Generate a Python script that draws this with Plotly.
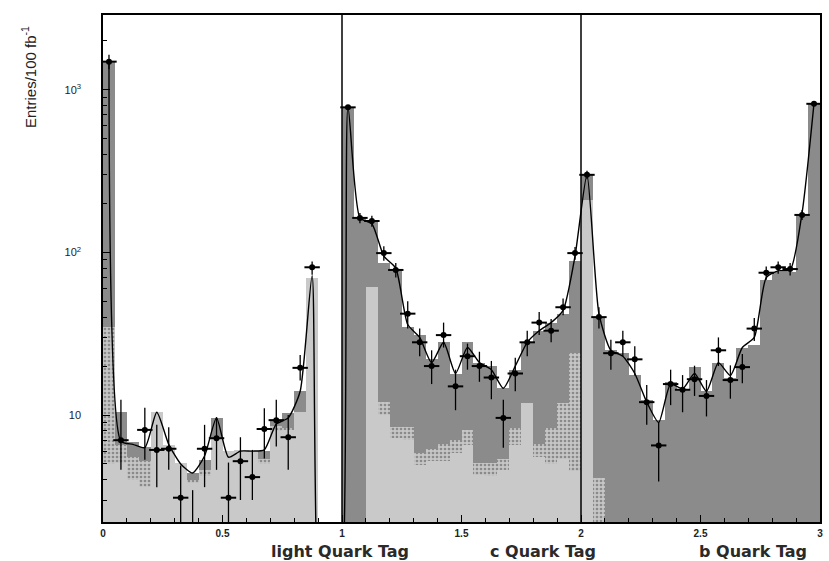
import numpy as np
import plotly.graph_objects as go

# Three tag regions, 20 bins of width 0.05 each
region_titles = ["light Quark Tag", "c Quark Tag", "b Quark Tag"]
bin_width = 0.05
n_bins = 60

# Stacked expectation, cumulative levels (entries / 100 fb^-1)
stack_top = [
    1500, 10.4, 6.8, 6.4, 10.4, 6.5, 5.1, 4.4, 5.3, 9.6, 6.0, 6.1, 6.0, 6.0, 9.3, 10.3, 14, 70, 0, 0,
    785, 163, 155, 86, 78, 35, 31, 22, 28, 18, 28, 21, 20, 14.6, 19, 28, 33, 37, 42, 88,
    300, 40, 25, 24, 17.6, 12.4, 9.3, 16, 14.3, 19.8, 14, 21, 16.9, 26, 27, 68, 76, 76, 170, 830,
]
stack_mid = [
    35, 6.5, 5.5, 5.2, 10.4, 6.5, 5.1, 4.0, 4.6, 7.2, 6.0, 6.1, 6.0, 5.4, 8.5, 8.3, 10.4, 70, 0, 0,
    0, 0, 61, 12, 8.4, 8.4, 5.8, 6.2, 6.6, 7.0, 8.1, 5.1, 5.1, 5.4, 8.3, 11.8, 6.6, 8.3, 11.8, 24,
    210, 4.1, 0, 0, 0, 0, 0, 0, 0, 0, 0, 0, 0, 0, 0, 0, 0, 0, 0, 0,
]
stack_low = [
    5.0, 5.1, 4.0, 3.6, 10.4, 6.5, 5.1, 3.8, 4.2, 7.2, 6.0, 6.1, 6.0, 5.0, 8.0, 8.1, 10.4, 70, 0, 0,
    0, 0, 61, 10, 7.2, 7.0, 4.9, 5.2, 5.2, 5.8, 6.5, 4.3, 4.2, 4.6, 6.5, 11.8, 5.5, 5.0, 5.4, 4.5,
    210, 0, 0, 0, 0, 0, 0, 0, 0, 0, 0, 0, 0, 0, 0, 0, 0, 0, 0, 0,
]

# Smooth expectation curve at bin centres
fit_curve = [
    1500, 6.9, 6.6, 6.3, 10.4, 6.6, 5.0, 4.4, 5.6, 9.6, 5.5, 6.0, 6.0, 6.1, 8.8, 9.6, 14, 72, 0, 0,
    785, 163, 150, 95, 80, 36, 30, 21, 28, 18, 26, 21, 19, 14.6, 20, 28, 33, 37, 44, 95,
    300, 42, 25, 23, 18, 12, 9.0, 15.5, 14.5, 18, 14, 21, 17.5, 26, 30, 70, 77, 78, 175, 830,
]

# Simulated data points with asymmetric errors
data_y = [
    1490, 7.0, None, 8.1, 6.1, 6.2, 3.1, 1.8, 6.2, 7.2, 3.1, 5.2, 4.15, 8.2, 9.3, 7.3, 19.5, 81, None, None,
    780, 163, 156, 99, 78, 42, 28, 20, 31, 15, 23, 20, 17, 9.6, 18, 28, 37, 33, 46, 99,
    300, 40, 24, 28, 22, 12, 6.5, 15.5, 14.3, 16.6, 13.1, 25, 16.4, 19.7, 34, 75, 81, 79, 170, 820,
]
data_err_up = [
    150, 5.4, 0, 3.0, 2.6, 2.2, 1.8, 1.65, 2.5, 2.5, 2.0, 2.1, 1.95, 2.8, 3.1, 2.7, 3.9, 7, 0, 0,
    25, 12, 12, 10, 8, 8, 6, 5, 6, 4, 4.5, 4.5, 4.5, 2.8, 4.5, 5, 6, 6, 6, 9,
    18, 6, 5, 5, 4.5, 3.3, 2.5, 3.5, 3.3, 3.5, 3.3, 5, 3.8, 4, 5.5, 7, 7, 7, 12, 25,
]
data_err_dn = [
    150, 2.4, 0, 2.8, 2.5, 1.6, 2.0, 1.0, 2.6, 2.6, 2.0, 2.2, 1.15, 2.8, 2.9, 2.7, 3.2, 8, 0, 0,
    25, 12, 12, 10, 8, 8, 5, 4.5, 5, 4.3, 4, 4, 4.5, 3.3, 4, 5, 6, 5, 5, 9,
    18, 6, 5, 5, 4.5, 3.3, 2.6, 4, 3.9, 3.5, 3.3, 5, 3.8, 4, 5.5, 7, 7, 7, 12, 25,
]

centers = (np.arange(n_bins) + 0.5) * bin_width


def positive_or_none(vals):
    return [v if (v is not None and v > 0) else None for v in vals]


fig = go.Figure()

# Dark total expectation
fig.add_trace(go.Bar(
    x=centers, y=positive_or_none(stack_top), width=bin_width,
    marker=dict(color="#8b8b8b", line=dict(width=0)),
    showlegend=False, hoverinfo="skip",
))
# Dotted intermediate component
fig.add_trace(go.Bar(
    x=centers, y=positive_or_none(stack_mid), width=bin_width,
    marker=dict(color="#b9b9b9", line=dict(width=0),
                pattern=dict(shape=".", fgcolor="#8a8a8a", bgcolor="#c6c6c6",
                             size=4, solidity=0.35, fillmode="replace")),
    showlegend=False, hoverinfo="skip",
))
# Pale lowest component
fig.add_trace(go.Bar(
    x=centers, y=positive_or_none(stack_low), width=bin_width,
    marker=dict(color="#c9c9c9", line=dict(width=0)),
    showlegend=False, hoverinfo="skip",
))

# Smooth curve; empty bins drop below the visible range
curve_y = [v if v > 0 else 0.3 for v in fit_curve]
fig.add_trace(go.Scatter(
    x=centers, y=curve_y, mode="lines",
    line=dict(color="black", width=1.4, shape="spline", smoothing=0.6),
    showlegend=False, hoverinfo="skip",
))

# Data points: filled dot with error bar, plus a short horizontal stroke
fig.add_trace(go.Scatter(
    x=centers, y=data_y, mode="markers",
    marker=dict(symbol="circle", size=6, color="black"),
    error_y=dict(type="data", symmetric=False, array=data_err_up,
                 arrayminus=data_err_dn, color="black", thickness=1.3, width=0),
    showlegend=False, hoverinfo="skip",
))
fig.add_trace(go.Scatter(
    x=centers, y=data_y, mode="markers",
    marker=dict(symbol="line-ew", size=11, color="black",
                line=dict(color="black", width=2)),
    showlegend=False, hoverinfo="skip",
))

# Region separators
for xb in (1, 2):
    fig.add_shape(type="line", x0=xb, x1=xb, xref="x", y0=0, y1=1, yref="paper",
                  line=dict(color="black", width=1.5))

# Region titles under the axis
title_pos = [0.99, 1.84, 2.72]
for name, xp in zip(region_titles, title_pos):
    fig.add_annotation(x=xp, xref="x", y=-0.058, yref="paper", text="<b>" + name + "</b>",
                       showarrow=False, yanchor="middle", xanchor="center",
                       font=dict(family="DejaVu Sans, Liberation Sans, sans-serif",
                                 size=16, color="#2a2a2a"))

# Vertical axis title
fig.add_annotation(x=-0.103, xref="paper", y=0.878, yref="paper",
                   text="Entries/100 fb<sup>-1</sup>", textangle=-90,
                   showarrow=False, xanchor="center", yanchor="middle",
                   font=dict(family="Liberation Sans Narrow, Arial Narrow, Liberation Sans, sans-serif",
                             size=15, color="#222"))

fig.update_layout(
    width=829, height=561,
    margin=dict(l=103, r=6, t=15, b=39),
    paper_bgcolor="white", plot_bgcolor="white",
    barmode="overlay", bargap=0,
    font=dict(family="Liberation Sans, Arial, sans-serif", color="#222"),
    xaxis=dict(
        range=[0, 3],
        tickvals=[0, 0.5, 1, 1.5, 2, 2.5, 3],
        ticktext=["<b>0</b>", "<b>0.5</b>", "<b>1</b>", "<b>1.5</b>",
                  "<b>2</b>", "<b>2.5</b>", "<b>3</b>"],
        tickfont=dict(size=10, color="#222"),
        ticks="inside", ticklen=7, tickcolor="black",
        ticklabelstandoff=1,
        minor=dict(dtick=0.1, tick0=0, ticks="inside", ticklen=4, tickcolor="black"),
        showline=True, linecolor="black", linewidth=1.5, mirror=True,
        showgrid=False, zeroline=False,
    ),
    yaxis=dict(
        type="log",
        range=[0.342, 3.46],
        tickvals=[10, 100, 1000],
        ticktext=["10", "10<sup>2</sup>", "10<sup>3</sup>"],
        tickfont=dict(size=11, color="#222"),
        ticks="inside", ticklen=7, tickcolor="black",
        ticklabelstandoff=18,
        minor=dict(ticks="inside", ticklen=4, tickcolor="black", dtick="D1"),
        showline=True, linecolor="black", linewidth=1.5, mirror=True,
        showgrid=False, zeroline=False,
    ),
)

fig.write_html("out.html")
